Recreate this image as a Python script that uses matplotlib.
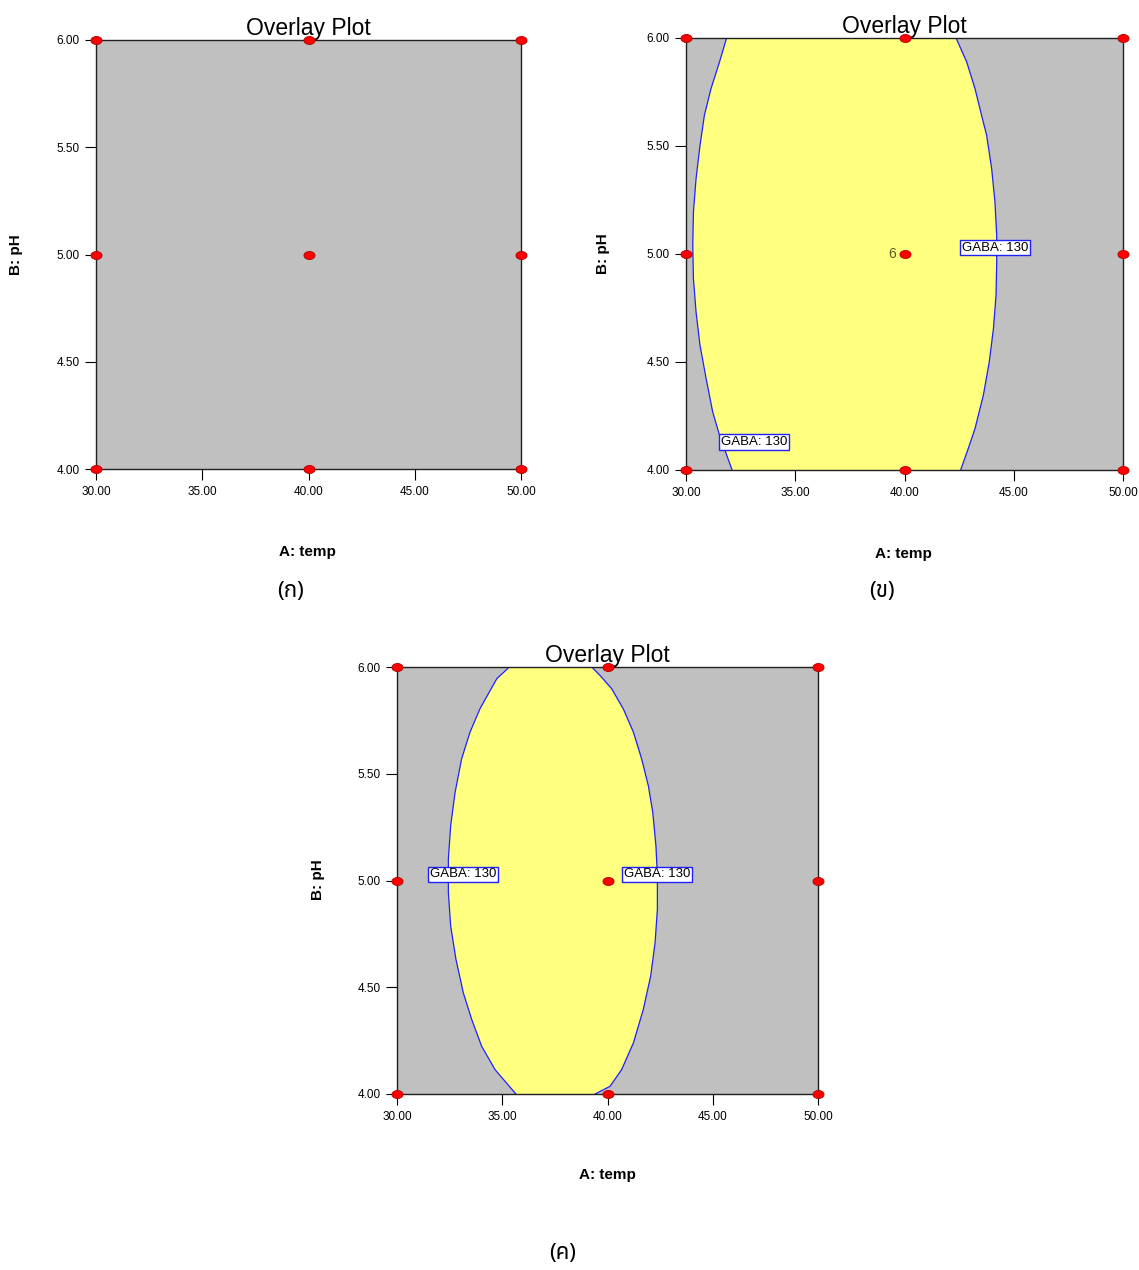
import numpy as np
import matplotlib
matplotlib.use("Agg")
import matplotlib.pyplot as plt
from matplotlib.path import Path

# ---------------- data ----------------
temp_ticks = [30, 35, 40, 45, 50]
ph_ticks = [4.0, 4.5, 5.0, 5.5, 6.0]
tick_fmt = "{:.2f}"

# design points (A: temp, B: pH)
design_temp = [30, 30, 30, 40, 40, 40, 50, 50, 50]
design_ph = [4.0, 5.0, 6.0, 4.0, 5.0, 6.0, 4.0, 5.0, 6.0]

# panel (b): GABA 130 contour, left and right branches
b_left_ph = [4.0, 4.162, 4.270, 4.424, 4.578, 4.732, 4.886, 5.040, 5.194,
             5.348, 5.502, 5.641, 5.764, 5.888, 6.0]
b_left_temp = [32.11, 31.53, 31.22, 30.92, 30.64, 30.46, 30.34, 30.31, 30.34,
               30.46, 30.64, 30.84, 31.14, 31.53, 31.86]
b_right_ph = [4.0, 4.100, 4.193, 4.347, 4.501, 4.655, 4.809, 4.963, 5.086,
              5.240, 5.394, 5.549, 5.641, 5.764, 5.888, 6.0]
b_right_temp = [42.57, 42.92, 43.23, 43.61, 43.88, 44.07, 44.19, 44.22, 44.22,
                44.14, 43.99, 43.76, 43.53, 43.23, 42.85, 42.36]

# panel (c): GABA 130 contour, left and right branches
c_left_ph = [4.0, 4.114, 4.224, 4.349, 4.474, 4.631, 4.787, 4.944, 5.100,
             5.257, 5.413, 5.570, 5.695, 5.804, 5.945, 6.0]
c_left_temp = [35.65, 34.66, 34.02, 33.55, 33.15, 32.80, 32.55, 32.44, 32.44,
               32.55, 32.76, 33.07, 33.47, 33.94, 34.74, 35.34]
c_right_ph = [4.0, 4.036, 4.114, 4.239, 4.396, 4.552, 4.709, 4.865, 5.022,
              5.163, 5.319, 5.444, 5.570, 5.695, 5.804, 5.898, 5.961, 6.0]
c_right_temp = [39.41, 40.12, 40.67, 41.23, 41.70, 42.05, 42.26, 42.37, 42.37,
                42.30, 42.15, 41.94, 41.62, 41.23, 40.75, 40.20, 39.64, 39.25]

contour_label = "GABA: 130"
b_labels = [(44.14, 5.03), (33.11, 4.13)]
c_labels = [(33.14, 5.03), (42.35, 5.03)]
center_count = "6"

title = "Overlay Plot"
xlabel = "A: temp"
ylabel = "B: pH"
panel_names = ["(ก)", "(ข)", "(ค)"]

# ---------------- style ----------------
W, H = 1139, 1270
fig = plt.figure(figsize=(W / 100, H / 100), dpi=100)
fig.patch.set_facecolor("white")
base_font = ["Liberation Sans", "DejaVu Sans"]
thai_font = ["Noto Sans Thai", "Loma", "Garuda", "Tlwg Typo", "DejaVu Sans", "Noto Sans", "Noto Sans CJK SC"]
plt.rcParams["font.family"] = base_font

GRAY = "#C0C0C0"
YELLOW = "#FFFF80"
BLUE = "#2020FF"

t = np.linspace(0, 2 * np.pi, 40)
ellipse = Path(np.c_[np.cos(t), 0.72 * np.sin(t)], closed=True)


def add_ax(l, t_, r, b):
    return fig.add_axes([l / W, 1 - b / H, (r - l) / W, (b - t_) / H])


def style_ax(ax):
    ax.set_facecolor(GRAY)
    ax.set_xlim(30, 50)
    ax.set_ylim(4, 6)
    ax.set_xticks(temp_ticks)
    ax.set_xticklabels([tick_fmt.format(v) for v in temp_ticks])
    ax.set_yticks(ph_ticks)
    ax.set_yticklabels([tick_fmt.format(v) for v in ph_ticks])
    ax.tick_params(direction="out", length=8, width=0.8, labelsize=8.5,
                   colors="black", pad=4)
    for s in ax.spines.values():
        s.set_linewidth(1.0)
        s.set_color("#202020")
    ax.set_title(title, fontsize=16.5, pad=1)
    ax.plot(design_temp, design_ph, linestyle="none", marker=ellipse,
            markersize=8, markerfacecolor="#FF0000", markeredgecolor="#B00000",
            markeredgewidth=0.6, clip_on=False, zorder=10)


def region(ax, lph, ltemp, rph, rtemp):
    poly_x = list(ltemp) + list(rtemp)[::-1]
    poly_y = list(lph) + list(rph)[::-1]
    ax.fill(poly_x, poly_y, color=YELLOW, linewidth=0, zorder=1)
    ax.plot(ltemp, lph, color=BLUE, lw=0.9, zorder=2)
    ax.plot(rtemp, rph, color=BLUE, lw=0.9, zorder=2)


def glabel(ax, x, y):
    ax.text(x, y, contour_label, fontsize=9.5, ha="center", va="center", zorder=12,
            bbox=dict(boxstyle="square,pad=0.12", facecolor="white",
                      edgecolor=BLUE, linewidth=1.0))


def labels(cx_ax, cy_x, cy_y, cx_y, name_xy):
    fig.text(cx_ax / W, 1 - cx_y / H, xlabel, fontsize=11, fontweight="bold",
             ha="center", va="center")
    fig.text(cy_x / W, 1 - cy_y / H, ylabel, fontsize=11, fontweight="bold",
             ha="center", va="center", rotation=90)
    fig.text(name_xy[0] / W, 1 - name_xy[1] / H, name_xy[2], fontsize=16,
             ha="center", va="center", family=thai_font)


# panel a
ax_a = add_ax(96, 40, 521, 469)
style_ax(ax_a)
labels(307, 16, 255, 552, (291, 592, panel_names[0]))

# panel b
ax_b = add_ax(686, 38, 1123, 470)
style_ax(ax_b)
region(ax_b, b_left_ph, b_left_temp, b_right_ph, b_right_temp)
for (x, y) in b_labels:
    glabel(ax_b, x, y)
ax_b.text(39.6, 5.0, center_count, fontsize=10, color="#5A5A20",
          ha="right", va="center", zorder=12)
labels(903, 603, 254, 554, (882, 592, panel_names[1]))

# panel c
ax_c = add_ax(397, 667, 818, 1094)
style_ax(ax_c)
region(ax_c, c_left_ph, c_left_temp, c_right_ph, c_right_temp)
for (x, y) in c_labels:
    glabel(ax_c, x, y)
labels(607, 318, 880, 1175, (563, 1253, panel_names[2]))

fig.savefig("out.png", dpi=100)
